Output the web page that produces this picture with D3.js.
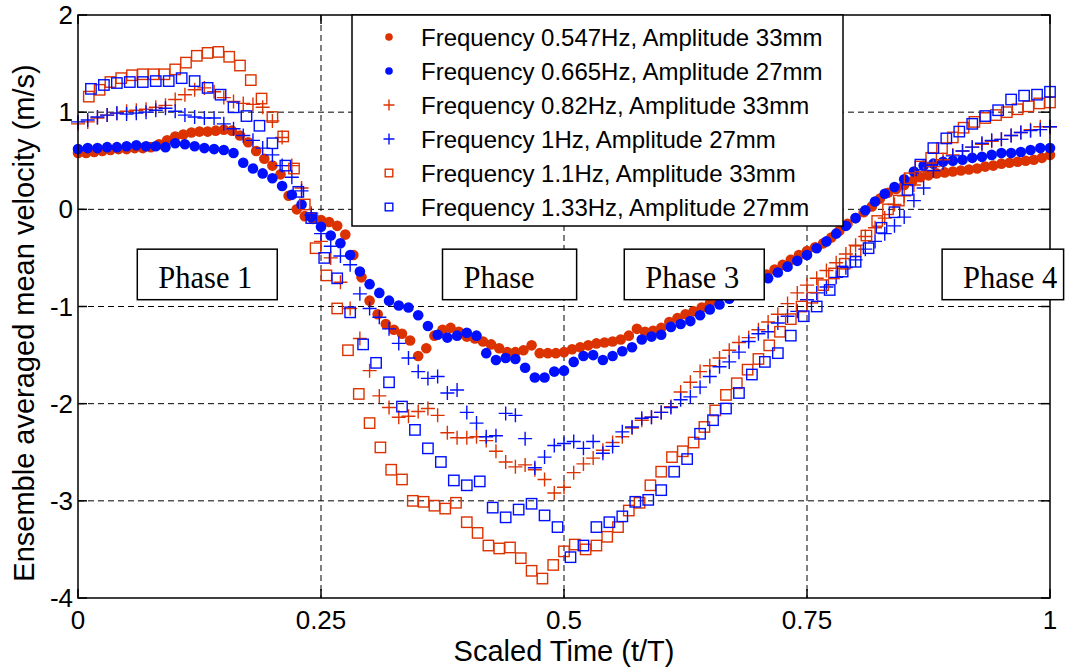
<!DOCTYPE html>
<html>
<head>
<meta charset="utf-8">
<script src="https://cdn.jsdelivr.net/npm/d3@7/dist/d3.min.js"></script>
<style>
  html, body { margin: 0; padding: 0; background: #fff; }
  svg { display: block; }
</style>
</head>
<body>
<svg id="chart" width="1076" height="668"></svg>
<script>
// Ensemble averaged mean velocity over one wave period (t/T), six test cases.
const seriesNames = [
  "Frequency 0.547Hz, Amplitude 33mm",
  "Frequency 0.665Hz, Amplitude 27mm",
  "Frequency 0.82Hz, Amplitude 33mm",
  "Frequency 1Hz, Amplitude 27mm",
  "Frequency 1.1Hz, Amplitude 33mm",
  "Frequency 1.33Hz, Amplitude 27mm"
];

// samples per period and index of the first stored sample for each case
const samplesPerPeriod = [120, 100, 100, 100, 90, 75];
const firstSample = [0, 0, 0, 0, 1, 1];

const vel0547 = [
  0.58, 0.58, 0.59, 0.60, 0.61, 0.62, 0.62, 0.63, 0.63, 0.64,
  0.67, 0.71, 0.75, 0.77, 0.79, 0.80, 0.80, 0.81, 0.82, 0.81,
  0.76, 0.69, 0.60, 0.52, 0.45, 0.36, 0.14, 0.00, -0.07, -0.10,
  -0.11, -0.13, -0.17, -0.26, -0.47, -0.70, -0.94, -1.08, -1.18, -1.24,
  -1.28, -1.35, -1.51, -1.43, -1.30, -1.24, -1.22, -1.26, -1.31, -1.33,
  -1.36, -1.39, -1.43, -1.47, -1.47, -1.45, -1.40, -1.48, -1.48, -1.48,
  -1.47, -1.44, -1.42, -1.40, -1.38, -1.37, -1.36, -1.34, -1.30, -1.23,
  -1.26, -1.25, -1.22, -1.16, -1.12, -1.08, -1.05, -1.01, -0.97, -0.93,
  -0.88, -0.83, -0.79, -0.75, -0.72, -0.67, -0.62, -0.57, -0.52, -0.47,
  -0.43, -0.39, -0.35, -0.29, -0.22, -0.15, -0.09, -0.03, 0.03, 0.11,
  0.17, 0.21, 0.25, 0.29, 0.33, 0.35, 0.37, 0.38, 0.39, 0.40,
  0.41, 0.42, 0.44, 0.45, 0.47, 0.48, 0.49, 0.50, 0.51, 0.53,
  0.56
];

const vel0665 = [
  0.62, 0.63, 0.63, 0.64, 0.64, 0.65, 0.66, 0.65, 0.65, 0.64,
  0.68, 0.67, 0.65, 0.63, 0.62, 0.61, 0.58, 0.48, 0.42, 0.37,
  0.32, 0.24, 0.15, 0.05, -0.08, -0.18, -0.27, -0.35, -0.47, -0.64,
  -0.77, -0.86, -0.94, -0.99, -1.01, -1.09, -1.20, -1.29, -1.32, -1.30,
  -1.27, -1.30, -1.48, -1.55, -1.53, -1.54, -1.63, -1.73, -1.73, -1.67,
  -1.66, -1.57, -1.51, -1.50, -1.55, -1.51, -1.46, -1.42, -1.34, -1.31,
  -1.29, -1.21, -1.18, -1.15, -1.09, -1.03, -0.98, -0.92, -0.86, -0.81,
  -0.76, -0.71, -0.65, -0.59, -0.53, -0.47, -0.40, -0.33, -0.25, -0.17,
  -0.09, -0.01, 0.08, 0.16, 0.23, 0.31, 0.39, 0.45, 0.47, 0.49,
  0.50, 0.51, 0.53, 0.54, 0.56, 0.58, 0.58, 0.59, 0.61, 0.63,
  0.63
];

const vel082 = [
  0.88, 0.90, 0.94, 0.97, 0.99, 1.01, 1.02, 1.03, 1.05, 1.07,
  1.13, 1.18, 1.23, 1.25, 1.21, 1.15, 1.11, 1.09, 1.08, 1.05,
  0.91, 0.74, 0.45, 0.22, -0.04, -0.33, -0.50, -0.75, -1.02, -1.33,
  -1.66, -1.92, -2.04, -2.14, -2.13, -2.08, -2.05, -2.12, -2.30, -2.35,
  -2.35, -2.34, -2.38, -2.49, -2.60, -2.65, -2.63, -2.68, -2.78, -2.92,
  -2.86, -2.71, -2.62, -2.56, -2.48, -2.40, -2.34, -2.25, -2.17, -2.14,
  -2.09, -2.03, -1.88, -1.78, -1.67, -1.61, -1.53, -1.45, -1.37, -1.32,
  -1.24, -1.16, -1.08, -0.97, -0.86, -0.78, -0.71, -0.63, -0.55, -0.46,
  -0.37, -0.28, -0.19, -0.09, 0.05, 0.14, 0.25, 0.36, 0.44, 0.51,
  0.56, 0.60, 0.64, 0.67, 0.70, 0.72, 0.76, 0.79, 0.82, 0.85,
  0.85
];

const vel1 = [
  0.90, 0.92, 0.95, 0.97, 0.99, 0.98, 0.99, 1.00, 1.02, 1.04,
  1.01, 0.97, 0.95, 0.94, 0.94, 0.88, 0.83, 0.76, 0.71, 0.63,
  0.56, 0.45, 0.33, 0.19, -0.06, -0.25, -0.38, -0.48, -0.57, -0.87,
  -1.02, -1.11, -1.23, -1.38, -1.53, -1.67, -1.74, -1.72, -1.89, -1.86,
  -2.09, -2.20, -2.34, -2.33, -2.10, -2.12, -2.36, -2.66, -2.55, -2.43,
  -2.41, -2.39, -2.46, -2.39, -2.51, -2.44, -2.29, -2.24, -2.15, -2.14,
  -2.09, -2.04, -1.96, -1.93, -1.83, -1.72, -1.62, -1.57, -1.47, -1.36,
  -1.28, -1.26, -1.17, -1.10, -1.05, -0.93, -0.86, -0.80, -0.70, -0.60,
  -0.52, -0.41, -0.33, -0.25, -0.17, -0.08, 0.09, 0.22, 0.40, 0.48,
  0.55, 0.60, 0.64, 0.68, 0.71, 0.72, 0.76, 0.79, 0.81, 0.82,
  0.85
];

const vel11 = [
  1.16, 1.23, 1.31, 1.35, 1.38, 1.39, 1.39, 1.39, 1.44, 1.51,
  1.58, 1.61, 1.62, 1.57, 1.48, 1.33, 1.14, 0.95, 0.75, 0.42,
  0.05, -0.40, -0.68, -1.02, -1.45, -1.90, -2.20, -2.45, -2.68, -2.78,
  -3.00, -3.01, -3.05, -3.08, -3.02, -3.22, -3.33, -3.46, -3.49, -3.48,
  -3.59, -3.72, -3.80, -3.66, -3.52, -3.45, -3.50, -3.46, -3.37, -3.27,
  -3.10, -3.02, -2.84, -2.70, -2.55, -2.49, -2.40, -2.24, -2.07, -1.91,
  -1.79, -1.65, -1.54, -1.40, -1.26, -1.13, -1.00, -0.91, -0.78, -0.66,
  -0.56, -0.43, -0.27, -0.12, 0.00, 0.09, 0.32, 0.44, 0.53, 0.63,
  0.74, 0.84, 0.90, 0.94, 0.97, 1.00, 1.03, 1.06, 1.09, 1.10
];

const vel133 = [
  1.24, 1.28, 1.30, 1.31, 1.31, 1.32, 1.32, 1.35, 1.32, 1.25,
  1.18, 1.05, 0.96, 0.86, 0.68, 0.45, 0.18, -0.09, -0.50, -0.71,
  -1.06, -1.39, -1.58, -1.78, -2.03, -2.27, -2.46, -2.60, -2.79, -2.84,
  -2.80, -3.07, -3.17, -3.09, -3.03, -3.15, -3.27, -3.58, -3.46, -3.27,
  -3.22, -3.16, -3.01, -2.99, -2.89, -2.70, -2.57, -2.31, -2.17, -2.05,
  -1.89, -1.70, -1.57, -1.48, -1.30, -1.10, -1.00, -0.83, -0.64, -0.54,
  -0.40, -0.19, -0.03, 0.20, 0.46, 0.63, 0.73, 0.80, 0.88, 0.96,
  1.02, 1.13, 1.17, 1.18, 1.21
];

const seriesValues = [vel0547, vel0665, vel082, vel1, vel11, vel133];
const seriesColors = ["#dc3200", "#0010ff", "#dc3200", "#0010ff", "#dc3200", "#0010ff"];
const seriesMarkers = ["dot", "dot", "plus", "plus", "square", "square"];

const xTicks = [0, 0.25, 0.5, 0.75, 1];
const xTickLabels = ["0", "0.25", "0.5", "0.75", "1"];
const yTicks = [-4, -3, -2, -1, 0, 1, 2];
const yTickLabels = ["-4", "-3", "-2", "-1", "0", "1", "2"];

const phaseLabels = ["Phase 1", "Phase", "Phase 3", "Phase 4"];
const phaseBoxes = [ // [t left, t right] of each annotation box
  [0.061, 0.205], [0.375, 0.513], [0.562, 0.706], [0.889, 1.014]
];

// ---- layout ----
const svg = d3.select("#chart");
const W = 1076, H = 668;
const plot = { left: 78, right: 1050, top: 15, bottom: 598 };

const x = d3.scaleLinear().domain([0, 1]).range([plot.left, plot.right]);
const y = d3.scaleLinear().domain([-4, 2]).range([plot.bottom, plot.top]);

svg.append("rect").attr("width", W).attr("height", H).attr("fill", "#fff");

const sans = "Liberation Sans, Arial, Helvetica, sans-serif";
const serif = "Liberation Serif, Times New Roman, serif";

// grid
const grid = svg.append("g").attr("stroke", "#000").attr("stroke-width", 1)
  .attr("stroke-dasharray", "6,4").attr("fill", "none");
xTicks.filter(t => t > 0 && t < 1).forEach(t => {
  grid.append("line").attr("x1", x(t)).attr("x2", x(t))
    .attr("y1", plot.top).attr("y2", plot.bottom);
});
yTicks.filter(v => v > -4 && v < 2).forEach(v => {
  grid.append("line").attr("x1", plot.left).attr("x2", plot.right)
    .attr("y1", y(v)).attr("y2", y(v));
});

// markers
function drawMarker(g, kind, color, cx, cy, s) {
  if (kind === "dot") {
    g.append("circle").attr("cx", cx).attr("cy", cy).attr("r", s)
      .attr("fill", color).attr("stroke", "none");
  } else if (kind === "plus") {
    g.append("path").attr("d", `M${cx - s},${cy}H${cx + s}M${cx},${cy - s}V${cy + s}`)
      .attr("stroke", color).attr("stroke-width", 1.4).attr("fill", "none");
  } else {
    g.append("rect").attr("x", cx - s).attr("y", cy - s)
      .attr("width", 2 * s).attr("height", 2 * s)
      .attr("stroke", color).attr("stroke-width", 1.4).attr("fill", "none");
  }
}

const markerSize = { dot: 5.3, plus: 7, square: 5.2 };
const dataLayer = svg.append("g");
seriesValues.forEach((vals, k) => {
  const g = dataLayer.append("g");
  vals.forEach((v, i) => {
    const t = (i + firstSample[k]) / samplesPerPeriod[k];
    drawMarker(g, seriesMarkers[k], seriesColors[k], x(t), y(v), markerSize[seriesMarkers[k]]);
  });
});

// axes box with inward ticks
const axes = svg.append("g").attr("stroke", "#000").attr("stroke-width", 1.5).attr("fill", "none");
axes.append("rect").attr("x", plot.left).attr("y", plot.top)
  .attr("width", plot.right - plot.left).attr("height", plot.bottom - plot.top);
const tl = 9;
xTicks.forEach(t => {
  axes.append("line").attr("x1", x(t)).attr("x2", x(t)).attr("y1", plot.bottom).attr("y2", plot.bottom - tl);
  axes.append("line").attr("x1", x(t)).attr("x2", x(t)).attr("y1", plot.top).attr("y2", plot.top + tl);
});
yTicks.forEach(v => {
  axes.append("line").attr("x1", plot.left).attr("x2", plot.left + tl).attr("y1", y(v)).attr("y2", y(v));
  axes.append("line").attr("x1", plot.right).attr("x2", plot.right - tl).attr("y1", y(v)).attr("y2", y(v));
});

// tick labels
const tickFont = 26;
xTicks.forEach((t, i) => {
  svg.append("text").attr("x", x(t)).attr("y", plot.bottom + 31)
    .attr("text-anchor", "middle").attr("font-family", sans).attr("font-size", tickFont)
    .text(xTickLabels[i]);
});
yTicks.forEach((v, i) => {
  svg.append("text").attr("x", plot.left - 5).attr("y", y(v) + 9)
    .attr("text-anchor", "end").attr("font-family", sans).attr("font-size", tickFont)
    .text(yTickLabels[i]);
});

// axis titles
svg.append("text").attr("x", x(0.5)).attr("y", 661)
  .attr("text-anchor", "middle").attr("font-family", sans).attr("font-size", 29)
  .text("Scaled Time (t/T)");
svg.append("text")
  .attr("transform", `translate(34,${323}) rotate(-90)`)
  .attr("text-anchor", "middle").attr("font-family", sans).attr("font-size", 29)
  .text("Ensemble averaged mean velocity (m/s)");

// phase annotations
const phaseTop = y(-0.41), phaseBottom = y(-0.93);
phaseLabels.forEach((label, i) => {
  const [a, b] = phaseBoxes[i];
  svg.append("rect").attr("x", x(a)).attr("y", phaseTop)
    .attr("width", x(b) - x(a)).attr("height", phaseBottom - phaseTop)
    .attr("fill", "#fff").attr("stroke", "#000").attr("stroke-width", 1.5);
  svg.append("text").attr("x", x(a) + 21).attr("y", phaseBottom - 12)
    .attr("font-family", serif).attr("font-size", 30.5).text(label);
});

// legend
const leg = svg.append("g");
const legX = 352, legY = plot.top, legW = 491, legH = 211;
leg.append("rect").attr("x", legX).attr("y", legY).attr("width", legW).attr("height", legH)
  .attr("fill", "#fff").attr("stroke", "#000").attr("stroke-width", 1.5);
const legendSize = { dot: 3.8, plus: 5.5, square: 3.8 };
seriesNames.forEach((name, k) => {
  const cy = legY + 22 + k * 34;
  drawMarker(leg, seriesMarkers[k], seriesColors[k], legX + 37, cy, legendSize[seriesMarkers[k]]);
  leg.append("text").attr("x", legX + 69).attr("y", cy + 8.5)
    .attr("font-family", sans).attr("font-size", 24).text(name);
});
</script>
</body>
</html>
